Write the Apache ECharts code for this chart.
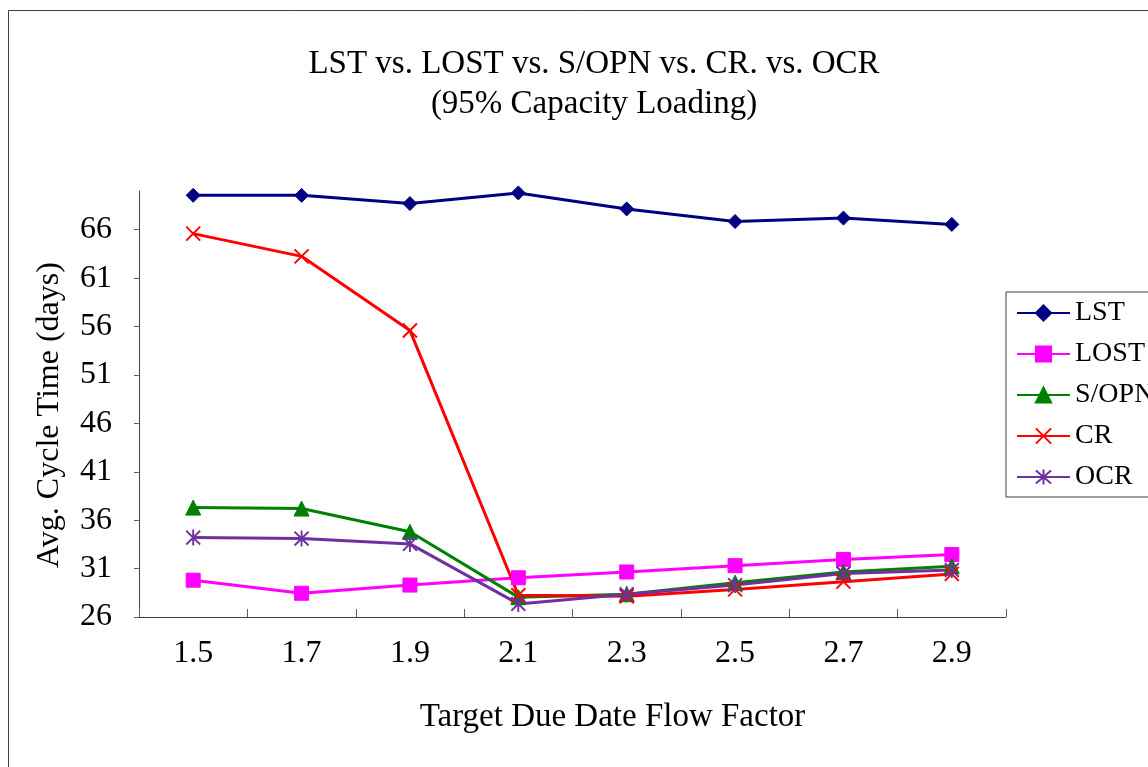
<!DOCTYPE html>
<html>
<head>
<meta charset="utf-8">
<script src="https://cdn.jsdelivr.net/npm/echarts@6/dist/echarts.min.js"></script>
<style>
html,body{margin:0;padding:0;background:#fff;}
#chart{width:1148px;height:767px;}
</style>
</head>
<body>
<div id="chart"></div>
<script>
const categories = ['1.5', '1.7', '1.9', '2.1', '2.3', '2.5', '2.7', '2.9'];
const seriesNames = ['LST', 'LOST', 'S/OPN', 'CR', 'OCR'];
const lstValues  = [69.55, 69.55, 68.7, 69.8, 68.15, 66.85, 67.2, 66.55];
const lostValues = [29.8, 28.45, 29.3, 30.05, 30.65, 31.3, 31.95, 32.45];
const sopnValues = [37.3, 37.2, 34.8, 28.05, 28.35, 29.55, 30.65, 31.25];
const crValues   = [65.6, 63.25, 55.6, 28.25, 28.15, 28.85, 29.65, 30.45];
const ocrValues  = [34.2, 34.1, 33.55, 27.35, 28.35, 29.3, 30.5, 30.85];
const yTickValues = [26, 31, 36, 41, 46, 51, 56, 61, 66];
const titleText = 'LST vs. LOST vs. S/OPN vs. CR. vs. OCR';
const subtitleText = '(95% Capacity Loading)';
const xAxisName = 'Target Due Date Flow Factor';
const yAxisName = 'Avg. Cycle Time (days)';

const FONT = 'Liberation Serif';

function mkSeries(name, data, color, symbol, size, bw) {
  return {
    name: name,
    type: 'line',
    data: data,
    symbol: symbol,
    symbolSize: size,
    showSymbol: true,
    lineStyle: { color: color, width: 3 },
    itemStyle: { color: color, borderColor: color, borderWidth: bw },
    emphasis: { disabled: true },
    z: 3
  };
}

const chart = echarts.init(document.getElementById('chart'), null, { renderer: 'canvas' });
chart.setOption({
  animation: false,
  backgroundColor: '#fff',
  graphic: [{
    type: 'rect',
    shape: { x: 8.5, y: 10.5, width: 1300, height: 900 },
    style: { fill: 'none', stroke: '#404040', lineWidth: 1 },
    silent: true, z: -10
  }],
  title: {
    text: titleText + '\n' + subtitleText,
    left: 594,
    top: 44,
    padding: 0,
    textAlign: 'center',
    textStyle: { fontFamily: FONT, fontSize: 33, fontWeight: 'normal', color: '#000', lineHeight: 40 }
  },
  legend: {
    orient: 'vertical',
    left: 1006,
    top: 292,
    padding: [6, 40, 5, 10],
    itemWidth: 53,
    itemHeight: 19,
    itemGap: 11,
    backgroundColor: '#fff',
    borderColor: '#404040',
    borderWidth: 1,
    selectedMode: false,
    data: seriesNames,
    textStyle: { fontFamily: FONT, fontSize: 28, color: '#000', lineHeight: 30 }
  },
  grid: { left: 139, right: 142, top: 191, bottom: 150, containLabel: false },
  xAxis: {
    type: 'category',
    data: categories,
    boundaryGap: true,
    name: xAxisName,
    nameLocation: 'middle',
    nameGap: 84,
    nameTextStyle: { fontFamily: FONT, fontSize: 33, color: '#000', padding: [0, 0, 0, 80] },
    axisLine: { show: true, lineStyle: { color: '#404040', width: 1 } },
    axisTick: { show: true, inside: true, length: 8, alignWithLabel: false, lineStyle: { color: '#606060' } },
    axisLabel: { fontFamily: FONT, fontSize: 32, color: '#000', margin: 21 },
    splitLine: { show: false }
  },
  yAxis: {
    type: 'value',
    min: 26,
    max: 70,
    interval: 5,
    name: yAxisName,
    nameLocation: 'middle',
    nameRotate: 90,
    nameGap: 73,
    nameTextStyle: { fontFamily: FONT, fontSize: 32, color: '#000', padding: [0, 22, 0, 0] },
    axisLine: { show: true, lineStyle: { color: '#404040', width: 1 } },
    axisTick: { show: true, inside: false, length: 5, customValues: yTickValues, lineStyle: { color: '#606060' } },
    axisLabel: { fontFamily: FONT, fontSize: 32, color: '#000', margin: 27, customValues: yTickValues },
    splitLine: { show: false }
  },
  series: [
    mkSeries('LST', lstValues, '#000080', 'diamond', 14, 1),
    mkSeries('LOST', lostValues, '#FF00FF', 'rect', 14, 1),
    mkSeries('S/OPN', sopnValues, '#008000', 'triangle', 15, 1),
    mkSeries('CR', crValues, '#FF0000', 'path://M0,0L12,12M12,0L0,12', 14, 2),
    mkSeries('OCR', ocrValues, '#7030A0', 'path://M0,1L12,13M12,1L0,13M6,0L6,14', [14, 16], 2)
  ]
});
</script>
</body>
</html>
